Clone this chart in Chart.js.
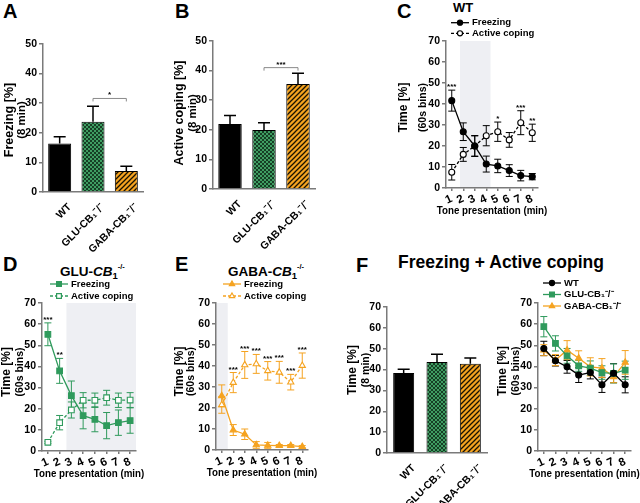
<!DOCTYPE html>
<html>
<head>
<meta charset="utf-8">
<script src="https://cdn.jsdelivr.net/npm/chart.js"></script>
<style>
    body { margin: 0; width: 640px; height: 503px; background: #fff; position: relative; overflow: hidden;
           font-family: 'Liberation Sans', Arial, sans-serif; }
    .box { position: absolute; }
    .txt { position: absolute; font-weight: bold; line-height: 1; white-space: nowrap; color: #000; }
    .letter { font-size: 20px; }
    .sub { font-size: 0.7em; position: relative; top: 3px; }
    .sup { font-size: 0.55em; position: relative; top: -7px; }
</style>
</head>
<body>

<div class="txt letter" style="left:3px;top:1px">A</div>
<div class="txt letter" style="left:175px;top:1px">B</div>
<div class="txt letter" style="left:397px;top:1px">C</div>
<div class="txt letter" style="left:3px;top:254px">D</div>
<div class="txt letter" style="left:175px;top:254px">E</div>
<div class="txt letter" style="left:356px;top:255px">F</div>

<div class="txt" style="left:453px;top:1px;font-size:13px">WT</div>
<div class="txt" style="left:60px;top:265px;font-size:13.5px">GLU-<i>CB</i><span class="sub">1</span><span class="sup">-/-</span></div>
<div class="txt" style="left:228px;top:265px;font-size:13.5px">GABA-<i>CB</i><span class="sub">1</span><span class="sup">-/-</span></div>
<div class="txt" style="left:398px;top:254px;font-size:17.5px">Freezing + Active coping</div>

<div class="box" style="left:0;top:30px;width:150px;height:224px"><canvas id="chartA"></canvas></div>
<div class="box" style="left:170px;top:27px;width:150px;height:227px"><canvas id="chartB"></canvas></div>
<div class="box" style="left:395px;top:15px;width:160px;height:208px"><canvas id="chartC"></canvas></div>
<div class="box" style="left:0;top:275px;width:150px;height:208px"><canvas id="chartD"></canvas></div>
<div class="box" style="left:170px;top:275px;width:150px;height:208px"><canvas id="chartE"></canvas></div>
<div class="box" style="left:345px;top:275px;width:150px;height:228px"><canvas id="chartF1"></canvas></div>
<div class="box" style="left:495px;top:275px;width:145px;height:208px"><canvas id="chartF2"></canvas></div>

<script>
// ========================
// Données
// ========================

const groupes = ['WT', 'GLU-CB₁⁻/⁻', 'GABA-CB₁⁻/⁻'];
const minutes = ['1', '2', '3', '4', '5', '6', '7', '8'];

// A / B / F : totaux sur 8 min
const freezingTotal = [16.4, 23.7, 7.1];
const freezingTotalSem = [2.3, 5.3, 1.6];
const copingTotal = [22.0, 19.9, 35.5];
const copingTotalSem = [2.8, 2.5, 3.6];
const combineTotal = [38.4, 43.6, 42.8];
const combineTotalSem = [1.8, 3.7, 2.7];

// C : WT
const wtFreezing = [41.6, 26.8, 20.0, 11.4, 10.5, 8.3, 5.9, 5.4];
const wtFreezingSem = [5.0, 4.2, 4.8, 3.8, 3.2, 2.8, 2.5, 1.5];
const wtCoping = [7.5, 16.0, 20.0, 24.9, 26.8, 22.9, 31.1, 26.3];
const wtCopingSem = [3.7, 3.3, 5.0, 4.8, 4.6, 3.5, 5.7, 4.1];
const wtStars = ['***', '', '', '', '*', '', '***', '**'];
const wtTone = [1.72, 4.37];

// D : GLU-CB1-/-
const gluFreezing = [55.2, 37.9, 26.2, 16.7, 15.0, 12.0, 13.4, 14.4];
const gluFreezingSem = [5.4, 5.9, 6.9, 6.2, 5.9, 6.2, 6.0, 6.0];
const gluCoping = [4.1, 13.4, 19.4, 24.0, 24.0, 25.2, 24.0, 24.1];
const gluCopingSem = [0.5, 3.4, 3.8, 3.6, 3.4, 3.5, 3.4, 3.5];
const gluStars = ['***', '**', '', '', '', '', '', ''];
const gluTone = [2.58, 9];

// E : GABA-CB1-/-
const gabaFreezing = [25.8, 9.5, 7.5, 2.4, 2.2, 2.1, 2.1, 1.6];
const gabaFreezingSem = [5.2, 2.6, 2.5, 1.6, 1.4, 0.5, 0.5, 0.5];
const gabaCoping = [21.5, 32.1, 40.5, 41.0, 37.7, 37.0, 32.3, 40.2];
const gabaCopingSem = [4.0, 4.8, 6.4, 4.5, 4.4, 5.2, 3.7, 6.0];
const gabaStars = ['', '***', '***', '***', '***', '***', '***', '***'];
const gabaTone = [0, 1.52];

// F : Freezing + Active coping
const wtCombine = [48.5, 42.7, 39.8, 35.9, 37.1, 31.3, 36.8, 31.3];
const wtCombineSem = [3.4, 2.5, 3.0, 3.5, 3.0, 3.6, 4.5, 3.8];
const gluCombine = [58.8, 50.9, 45.0, 40.3, 39.2, 37.1, 36.7, 38.2];
const gluCombineSem = [4.8, 3.6, 3.5, 2.6, 3.4, 3.2, 4.5, 4.3];
const gabaCombine = [47.7, 43.0, 47.7, 43.9, 39.8, 39.2, 35.1, 41.9];
const gabaCombineSem = [2.6, 2.6, 4.5, 3.5, 4.3, 4.5, 2.8, 5.6];

// ========================
// Styles
// ========================

const AXIS = '#7a7a7a';
const VERT = '#2f9a5c';
const ORANGE = '#f5a320';
const FONT = "'Liberation Sans', Arial, sans-serif";

Chart.defaults.font.family = FONT;
Chart.defaults.font.weight = 'bold';
Chart.defaults.font.size = 11;
Chart.defaults.color = '#000';
Chart.defaults.animation = false;
Chart.defaults.plugins.legend.display = false;
Chart.defaults.plugins.tooltip.enabled = false;

function damier() {
    const c = document.createElement('canvas');
    c.width = 4; c.height = 4;
    const g = c.getContext('2d');
    g.fillStyle = '#3f9d62';
    g.fillRect(0, 0, 4, 4);
    g.fillStyle = '#163f25';
    g.fillRect(0, 0, 2, 2);
    g.fillRect(2, 2, 2, 2);
    return g.createPattern(c, 'repeat');
}

function hachures() {
    const c = document.createElement('canvas');
    c.width = 5; c.height = 5;
    const g = c.getContext('2d');
    g.fillStyle = ORANGE;
    g.fillRect(0, 0, 5, 5);
    g.strokeStyle = '#1a1200';
    g.lineWidth = 1.3;
    g.beginPath();
    g.moveTo(-1, 6); g.lineTo(6, -1);
    g.moveTo(-1, 1); g.lineTo(1, -1);
    g.moveTo(4, 6); g.lineTo(6, 4);
    g.stroke();
    return g.createPattern(c, 'repeat');
}

const barColors = ['#000', damier(), hachures()];

// ========================
// Plugins
// ========================

function drawMarker(ctx, style, x, y, r) {
    ctx.beginPath();
    if (style === 'rect') {
        const h = r * Math.SQRT1_2;
        ctx.rect(x - h, y - h, 2 * h, 2 * h);
    } else if (style === 'triangle') {
        for (let k = 0; k < 3; k++) {
            const a = k * 2 * Math.PI / 3;
            const px = x + Math.sin(a) * r, py = y - Math.cos(a) * r;
            if (k === 0) ctx.moveTo(px, py); else ctx.lineTo(px, py);
        }
        ctx.closePath();
    } else {
        ctx.arc(x, y, r, 0, Math.PI * 2);
    }
    ctx.fill();
    ctx.stroke();
}

// Zone grisée de présentation du son
const toneShade = {
    id: 'toneShade',
    beforeDraw(chart, args, opts) {
        if (!opts.range) return;
        const {ctx, chartArea} = chart;
        const x = chart.scales.x;
        const x0 = Math.max(chartArea.left, x.getPixelForValue(opts.range[0] - 1));
        const x1 = Math.min(chartArea.right, x.getPixelForValue(opts.range[1] - 1));
        ctx.save();
        ctx.fillStyle = '#eeeff3';
        ctx.fillRect(x0, chartArea.top, x1 - x0, chartArea.bottom - chartArea.top);
        ctx.restore();
    }
};

// Barres d'erreur (SEM)
const errorBars = {
    id: 'errorBars',
    beforeDatasetsDraw(chart) {
        const ctx = chart.ctx;
        const y = chart.scales.y;
        chart.data.datasets.forEach((ds, di) => {
            if (!ds.errors) return;
            const meta = chart.getDatasetMeta(di);
            ctx.save();
            ctx.strokeStyle = ds.errorColor || ds.borderColor;
            ctx.lineWidth = ds.errorWidth || 1;
            meta.data.forEach((el, i) => {
                const top = y.getPixelForValue(ds.data[i] + ds.errors[i]);
                const bottom = ds.upOnly ? el.y : y.getPixelForValue(Math.max(0, ds.data[i] - ds.errors[i]));
                const cap = ds.capSize || 4;
                ctx.beginPath();
                ctx.moveTo(el.x, top);
                ctx.lineTo(el.x, bottom);
                ctx.moveTo(el.x - cap, top);
                ctx.lineTo(el.x + cap, top);
                if (!ds.upOnly) {
                    ctx.moveTo(el.x - cap, bottom);
                    ctx.lineTo(el.x + cap, bottom);
                }
                ctx.stroke();
            });
            ctx.restore();
        });
    }
};

// Étoiles de significativité
const stars = {
    id: 'stars',
    afterDatasetsDraw(chart, args, opts) {
        if (!opts.labels) return;
        const ctx = chart.ctx;
        ctx.save();
        ctx.font = 'bold 8px ' + FONT;
        ctx.fillStyle = '#000';
        ctx.textAlign = 'center';
        ctx.textBaseline = 'alphabetic';
        opts.labels.forEach((txt, i) => {
            if (!txt) return;
            let top = 0;
            chart.data.datasets.forEach(ds => {
                top = Math.max(top, ds.data[i] + (ds.errors ? ds.errors[i] : 0));
            });
            ctx.fillText(txt, chart.scales.x.getPixelForValue(i), chart.scales.y.getPixelForValue(top) - 1);
        });
        ctx.restore();
    }
};

// Crochet de comparaison entre deux barres
const bracket = {
    id: 'bracket',
    afterDatasetsDraw(chart, args, opts) {
        if (!opts.label) return;
        const ctx = chart.ctx;
        const x0 = chart.scales.x.getPixelForValue(opts.from);
        const x1 = chart.scales.x.getPixelForValue(opts.to);
        const y = chart.scales.y.getPixelForValue(opts.level);
        ctx.save();
        ctx.strokeStyle = '#8a8a8a';
        ctx.lineWidth = 1;
        ctx.beginPath();
        ctx.moveTo(x0, y + 3);
        ctx.lineTo(x0, y);
        ctx.lineTo(x1, y);
        ctx.lineTo(x1, y + 3);
        ctx.stroke();
        ctx.font = 'bold 8px ' + FONT;
        ctx.fillStyle = '#000';
        ctx.textAlign = 'center';
        ctx.fillText(opts.label, (x0 + x1) / 2, y - 1);
        ctx.restore();
    }
};

// Légende façon GraphPad (trait + symbole)
const lineLegend = {
    id: 'lineLegend',
    afterDraw(chart, args, opts) {
        if (opts.x == null) return;
        const ctx = chart.ctx;
        chart.data.datasets.forEach((ds, i) => {
            const y = opts.y + i * opts.gap;
            ctx.save();
            ctx.strokeStyle = ds.borderColor;
            ctx.lineWidth = 1.3;
            ctx.setLineDash(ds.borderDash || []);
            ctx.beginPath();
            ctx.moveTo(opts.x - 9, y);
            ctx.lineTo(opts.x + 9, y);
            ctx.stroke();
            ctx.setLineDash([]);
            ctx.fillStyle = ds.pointBackgroundColor;
            ctx.strokeStyle = ds.pointBorderColor;
            ctx.lineWidth = 1.2;
            drawMarker(ctx, ds.pointStyle, opts.x, y, ds.pointRadius * 0.85);
            ctx.font = 'bold 9.5px ' + FONT;
            ctx.fillStyle = '#000';
            ctx.textBaseline = 'middle';
            ctx.fillText(ds.label, opts.x + 12, y);
            ctx.restore();
        });
    }
};

// Titres d'axes (Y sur deux lignes de tailles différentes, X un peu resserré)
const axisTitles = {
    id: 'axisTitles',
    afterDraw(chart, args, opts) {
        const {ctx, chartArea} = chart;
        if (opts.lines) {
            const cy = (chartArea.top + chartArea.bottom) / 2 + (opts.shift || 0);
            opts.lines.forEach(l => {
                ctx.save();
                ctx.translate(l.x, cy);
                ctx.rotate(-Math.PI / 2);
                ctx.font = 'bold ' + l.size + 'px ' + FONT;
                ctx.fillStyle = '#000';
                ctx.textAlign = 'center';
                ctx.textBaseline = 'middle';
                ctx.fillText(l.text, 0, 0);
                ctx.restore();
            });
        }
        if (opts.xText) {
            ctx.save();
            ctx.translate((chartArea.left + chartArea.right) / 2, chartArea.bottom + 23);
            ctx.scale(0.85, 1);
            ctx.font = 'bold 11.5px ' + FONT;
            ctx.fillStyle = '#000';
            ctx.textAlign = 'center';
            ctx.textBaseline = 'middle';
            ctx.fillText(opts.xText, 0, 0);
            ctx.restore();
        }
    }
};

Chart.register(toneShade, errorBars, stars, bracket, lineLegend, axisTitles);

// ========================
// Constructeurs de graphiques
// ========================

function yAxis(max, width) {
    return {
        min: 0,
        max: max,
        ticks: { stepSize: 10, padding: 2, font: { size: 10.5 } },
        grid: { drawOnChartArea: false, tickLength: 4, color: AXIS, lineWidth: 1.5 },
        border: { color: AXIS, width: 1.5 },
        afterFit: s => { s.width = width; }
    };
}

function renderBarChart(id, values, errors, cfg) {
    return new Chart(document.getElementById(id), {
        type: 'bar',
        data: {
            labels: groupes,
            datasets: [{
                data: values,
                errors: errors,
                upOnly: true,
                capSize: 6,
                errorWidth: 1.5,
                errorColor: '#000',
                backgroundColor: barColors,
                borderColor: '#000',
                borderWidth: 1,
                categoryPercentage: 1,
                barPercentage: cfg.barPct
            }]
        },
        options: {
            responsive: true,
            maintainAspectRatio: false,
            layout: { padding: { top: cfg.padTop, right: cfg.padRight, left: 0, bottom: 0 } },
            plugins: {
                bracket: cfg.bracket || {},
                axisTitles: { lines: cfg.yLines, shift: cfg.shift }
            },
            scales: {
                x: {
                    ticks: { minRotation: 45, maxRotation: 45, autoSkip: false, padding: 1, labelOffset: 10, font: { size: 10.5 } },
                    grid: { display: false },
                    border: { color: AXIS, width: 1.5 },
                    afterFit: s => { s.height = cfg.xHeight; }
                },
                y: yAxis(cfg.yMax, cfg.yWidth)
            }
        }
    });
}

function renderTimeChart(id, datasets, cfg) {
    return new Chart(document.getElementById(id), {
        type: 'line',
        data: { labels: minutes, datasets: datasets },
        options: {
            responsive: true,
            maintainAspectRatio: false,
            layout: { padding: { top: cfg.padTop, right: cfg.padRight, left: 0, bottom: 0 } },
            plugins: {
                toneShade: { range: cfg.tone },
                stars: { labels: cfg.stars },
                lineLegend: cfg.legend,
                axisTitles: { lines: cfg.yLines, shift: cfg.shift, xText: 'Tone presentation (min)' }
            },
            scales: {
                x: {
                    offset: true,
                    ticks: { padding: 1, font: { size: 11.5 } },
                    grid: { drawOnChartArea: false, offset: false, tickLength: 3, color: AXIS, lineWidth: 1.5 },
                    border: { color: AXIS, width: 1.5 },
                    afterFit: s => { s.height = cfg.xHeight; }
                },
                y: yAxis(70, cfg.yWidth)
            }
        }
    });
}

function serie(label, values, errors, color, style, filled, dashed) {
    return {
        label: label,
        data: values,
        errors: errors,
        borderColor: color,
        borderWidth: 1.3,
        borderDash: dashed ? [3, 2] : [],
        pointStyle: style,
        pointRadius: style === 'rect' ? 4 : (style === 'triangle' ? 3.6 : 3),
        pointBackgroundColor: filled ? color : '#fff',
        pointBorderColor: color,
        pointBorderWidth: 1.1,
        capSize: 3.5,
        tension: 0
    };
}

// ========================
// Rendu
// ========================

renderBarChart('chartA', freezingTotal, freezingTotalSem, {
    padTop: 14, padRight: 7, yWidth: 43, xHeight: 62, yMax: 50, barPct: 0.69,
    bracket: { from: 1, to: 2, level: 31.6, label: '*' },
    yLines: [{ text: 'Freezing [%]', size: 12.5, x: 10 }, { text: '(8 min)', size: 11.5, x: 22 }], shift: 2
});

renderBarChart('chartB', copingTotal, copingTotalSem, {
    padTop: 14, padRight: 5, yWidth: 43, xHeight: 65, yMax: 50, barPct: 0.69,
    bracket: { from: 1, to: 2, level: 41, label: '***' },
    yLines: [{ text: 'Active coping [%]', size: 12.5, x: 10 }, { text: '(8 min)', size: 11.5, x: 23 }], shift: -2
});

renderTimeChart('chartC', [
    serie('Freezing', wtFreezing, wtFreezingSem, '#000', 'circle', true, false),
    serie('Active coping', wtCoping, wtCopingSem, '#000', 'circle', false, true)
], {
    padTop: 26, padRight: 17, yWidth: 51, xHeight: 35, tone: wtTone, stars: wtStars,
    legend: { x: 65, y: 7.7, gap: 10.6 },
    yLines: [{ text: 'Time [%]', size: 12, x: 9 }, { text: '(60s bins)', size: 10.5, x: 28 }], shift: -7
});

renderTimeChart('chartD', [
    serie('Freezing', gluFreezing, gluFreezingSem, VERT, 'rect', true, false),
    serie('Active coping', gluCoping, gluCopingSem, VERT, 'rect', false, true)
], {
    padTop: 28, padRight: 14, yWidth: 42, xHeight: 32, tone: gluTone, stars: gluStars,
    legend: { x: 59, y: 9, gap: 12 },
    yLines: [{ text: 'Time [%]', size: 12, x: 7 }, { text: '(60s bins)', size: 10.5, x: 20 }], shift: -5
});

renderTimeChart('chartE', [
    serie('Freezing', gabaFreezing, gabaFreezingSem, ORANGE, 'triangle', true, false),
    serie('Active coping', gabaCoping, gabaCopingSem, ORANGE, 'triangle', false, true)
], {
    padTop: 28, padRight: 12, yWidth: 46, xHeight: 33, tone: gabaTone, stars: gabaStars,
    legend: { x: 62, y: 9, gap: 12 },
    yLines: [{ text: 'Time [%]', size: 12, x: 10 }, { text: '(60s bins)', size: 10.5, x: 21.5 }], shift: -5
});

renderBarChart('chartF1', combineTotal, combineTotalSem, {
    padTop: 32, padRight: 8, yWidth: 42, xHeight: 50, yMax: 70, barPct: 0.63,
    yLines: [{ text: 'Time [%]', size: 12, x: 7.5 }, { text: '(8 min)', size: 10.5, x: 21 }], shift: -10
});

renderTimeChart('chartF2', [
    serie('WT', wtCombine, wtCombineSem, '#000', 'circle', true, false),
    serie('GLU-CB₁⁻/⁻', gluCombine, gluCombineSem, VERT, 'rect', true, false),
    serie('GABA-CB₁⁻/⁻', gabaCombine, gabaCombineSem, ORANGE, 'triangle', true, false)
], {
    padTop: 28, padRight: 9, yWidth: 43, xHeight: 32,
    legend: { x: 57, y: 8, gap: 11.5 },
    yLines: [{ text: 'Time [%]', size: 12, x: 7.5 }, { text: '(60s bins)', size: 10.5, x: 21 }], shift: -6
});
</script>
</body>
</html>
